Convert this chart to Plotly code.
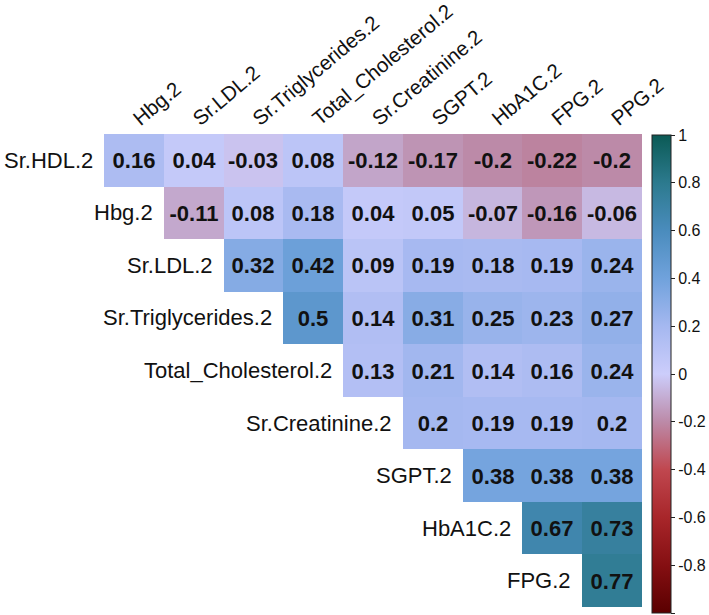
import numpy as np
import plotly.graph_objects as go

row_labels = ["Sr.HDL.2", "Hbg.2", "Sr.LDL.2", "Sr.Triglycerides.2", "Total_Cholesterol.2",
              "Sr.Creatinine.2", "SGPT.2", "HbA1C.2", "FPG.2"]
col_labels = ["Hbg.2", "Sr.LDL.2", "Sr.Triglycerides.2", "Total_Cholesterol.2", "Sr.Creatinine.2",
              "SGPT.2", "HbA1C.2", "FPG.2", "PPG.2"]

N = None
r_hdl = [0.16, 0.04, -0.03, 0.08, -0.12, -0.17, -0.2, -0.22, -0.2]
r_hbg = [N, -0.11, 0.08, 0.18, 0.04, 0.05, -0.07, -0.16, -0.06]
r_ldl = [N, N, 0.32, 0.42, 0.09, 0.19, 0.18, 0.19, 0.24]
r_tg = [N, N, N, 0.5, 0.14, 0.31, 0.25, 0.23, 0.27]
r_tc = [N, N, N, N, 0.13, 0.21, 0.14, 0.16, 0.24]
r_cr = [N, N, N, N, N, 0.2, 0.19, 0.19, 0.2]
r_sgpt = [N, N, N, N, N, N, 0.38, 0.38, 0.38]
r_a1c = [N, N, N, N, N, N, N, 0.67, 0.73]
r_fpg = [N, N, N, N, N, N, N, N, 0.77]

rows = [r_hdl, r_hbg, r_ldl, r_tg, r_tc, r_cr, r_sgpt, r_a1c, r_fpg]

cbar_ticks = [1, 0.8, 0.6, 0.4, 0.2, 0, -0.2, -0.4, -0.6, -0.8, -1]

z = np.array([[np.nan if v is None else v for v in r] for r in rows], dtype=float)
text = [["" if v is None else f"{v:g}" for v in r] for r in rows]

colorscale = [
    [0.0, "#5a0000"],
    [0.1, "#850f12"],
    [0.2, "#a8262a"],
    [0.3, "#c0474f"],
    [0.4, "#bc8aa8"],
    [0.5, "#cccdfb"],
    [0.6, "#a5b8f0"],
    [0.7, "#70a2dc"],
    [0.8, "#4a8cbd"],
    [0.9, "#2c7a8e"],
    [1.0, "#0b5a55"],
]

FONT = "Liberation Sans, Arial, sans-serif"
W, H = 709, 615
L, T = 104, 134
PW, PH = 538, 473
R = W - L - PW
B = H - T - PH

fig = go.Figure()
fig.add_trace(go.Heatmap(
    z=z, x=list(range(9)), y=list(range(9)),
    text=text, texttemplate="<b>%{text}</b>",
    textfont=dict(family=FONT, size=22, color="#111111"),
    colorscale=colorscale, zmin=-1, zmax=1,
    hoverongaps=False, xgap=0, ygap=0,
    colorbar=dict(
        x=(652 - L) / PW, xanchor="left",
        y=(H - B - 374) / PH, yanchor="middle",
        thickness=19, len=478, lenmode="pixels",
        outlinewidth=1, outlinecolor="#222222",
        tickvals=cbar_ticks, ticktext=[f"{t:g}" for t in cbar_ticks],
        ticks="outside", ticklen=4, tickcolor="#222222",
        tickfont=dict(family=FONT, size=16, color="#111111"),
        xpad=0, ypad=0,
    ),
))

for i, lab in enumerate(row_labels):
    fig.add_annotation(
        x=i - 0.5, y=i, xref="x", yref="y", text=lab, showarrow=False,
        xanchor="right", yanchor="middle", xshift=-9,
        font=dict(family=FONT, size=22, color="#111111"),
    )

fig.update_layout(
    width=W, height=H,
    margin=dict(l=L, r=R, t=T, b=B, autoexpand=False),
    paper_bgcolor="white", plot_bgcolor="white",
    xaxis=dict(range=[-0.5, 8.5], side="top", tickvals=list(range(9)), ticktext=col_labels,
               tickangle=-40, showgrid=False, zeroline=False, showline=False, ticks="",
               tickfont=dict(family=FONT, size=20.5, color="#111111"), fixedrange=True,
               automargin=False),
    yaxis=dict(range=[8.5, -0.5], showticklabels=False, showgrid=False, zeroline=False,
               showline=False, ticks="", fixedrange=True, automargin=False),
    showlegend=False,
)

fig.write_html(
    "out.html",
    config={"displayModeBar": False},
    post_script="document.body.style.margin='0';document.body.style.overflow='hidden';",
)
